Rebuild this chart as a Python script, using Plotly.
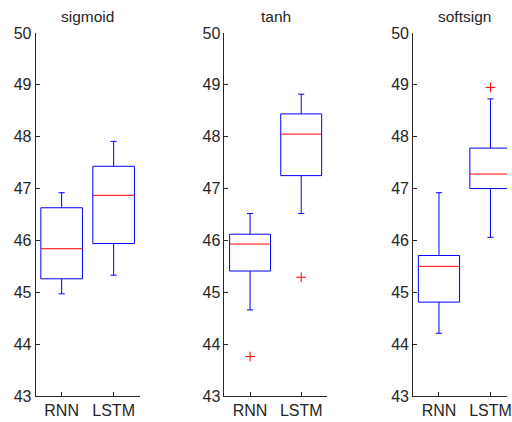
import plotly.graph_objects as go

# ---- data ----
activations = ["sigmoid", "tanh", "softsign"]
models = ["RNN", "LSTM"]

rnn_lower = [44.97, 44.66, 44.21]
rnn_q1 = [45.26, 45.41, 44.81]
rnn_median = [45.84, 45.93, 45.50]
rnn_q3 = [46.63, 46.12, 45.71]
rnn_upper = [46.92, 46.52, 46.92]
rnn_outliers = [[], [43.76], []]

lstm_lower = [45.33, 46.52, 46.06]
lstm_q1 = [45.94, 47.25, 47.00]
lstm_median = [46.87, 48.05, 47.28]
lstm_q3 = [47.43, 48.44, 47.78]
lstm_upper = [47.91, 48.82, 48.73]
lstm_outliers = [[], [45.29], [48.95]]

y_ticks = [43, 44, 45, 46, 47, 48, 49, 50]

# ---- style / layout ----
W, H = 512, 422
BOX_W = 0.8
CAP_W = 0.12
AX_COLOR = "#262626"
BLUE = "#0000ff"
RED = "#ff0000"
FONT = "Liberation Sans, Arial, Helvetica, sans-serif"
domains = [(36 / W, 141 / W), (226.7 / W, 330 / W), (417.3 / W, 1.0)]
px_per_unit = 52.0

fig = go.Figure()

series = [
    (rnn_lower, rnn_q1, rnn_median, rnn_q3, rnn_upper, rnn_outliers),
    (lstm_lower, lstm_q1, lstm_median, lstm_q3, lstm_upper, lstm_outliers),
]

for i, act in enumerate(activations):
    xa = "x" if i == 0 else f"x{i+1}"
    ya = "y" if i == 0 else f"y{i+1}"
    for j, (lo, q1, med, q3, up, outs) in enumerate(series):
        p = j + 1
        l, r = p - BOX_W / 2, p + BOX_W / 2
        cl, cr = p - CAP_W / 2, p + CAP_W / 2
        # box + whiskers + caps (blue)
        fig.add_trace(go.Scatter(
            x=[l, r, r, l, l, None, p, p, None, p, p, None, cl, cr, None, cl, cr],
            y=[q1[i], q1[i], q3[i], q3[i], q1[i], None,
               q1[i], lo[i], None, q3[i], up[i], None,
               lo[i], lo[i], None, up[i], up[i]],
            mode="lines", line=dict(color=BLUE, width=1),
            showlegend=False, xaxis=xa, yaxis=ya, hoverinfo="skip",
        ))
        # median (red)
        fig.add_trace(go.Scatter(
            x=[l, r], y=[med[i], med[i]],
            mode="lines", line=dict(color=RED, width=1),
            showlegend=False, xaxis=xa, yaxis=ya, hoverinfo="skip",
        ))
        if outs[i]:
            fig.add_trace(go.Scatter(
                x=[p] * len(outs[i]), y=outs[i], mode="markers",
                marker=dict(symbol="cross-thin", size=7,
                            line=dict(color=RED, width=1)),
                showlegend=False, xaxis=xa, yaxis=ya,
            ))

layout = dict(
    width=W, height=H,
    margin=dict(l=0, r=0, t=33.3, b=26),
    paper_bgcolor="white", plot_bgcolor="white",
    font=dict(family=FONT, size=16, color=AX_COLOR),
    annotations=[],
)

for i, act in enumerate(activations):
    d0, d1 = domains[i]
    if i == 2:
        xr = [0.5, 0.5 + (1.0 - d0) * W / px_per_unit]
        center = (d0 * W + px_per_unit) / W
    else:
        xr = [0.5, 2.5]
        center = (d0 + d1) / 2
    sfx = "" if i == 0 else str(i + 1)
    layout["xaxis" + sfx] = dict(
        domain=[d0, d1], range=xr, tickvals=[1, 2], ticktext=models,
        ticks="inside", ticklen=4, tickcolor=AX_COLOR, showline=True,
        linecolor=AX_COLOR, linewidth=1, showgrid=False, zeroline=False,
        anchor="y" + sfx, ticklabeloverflow="allow",
        tickfont=dict(size=16, color=AX_COLOR),
    )
    layout["yaxis" + sfx] = dict(
        domain=[0, 1], range=[43, 50], tickvals=y_ticks,
        ticks="inside", ticklen=4, tickcolor=AX_COLOR, showline=True,
        linecolor=AX_COLOR, linewidth=1, showgrid=False, zeroline=False,
        anchor="x" + sfx, tickfont=dict(size=16, color=AX_COLOR),
    )
    layout["annotations"].append(dict(
        text=act, xref="paper", yref="paper", x=center, y=1.046,
        xanchor="center", yanchor="middle", showarrow=False,
        font=dict(family=FONT, size=15.5, color=AX_COLOR),
    ))

fig.update_layout(**layout)
fig.write_html(
    "out.html",
    config={"displayModeBar": False},
    post_script="document.body.style.margin='0';document.body.style.overflow='hidden';",
)
